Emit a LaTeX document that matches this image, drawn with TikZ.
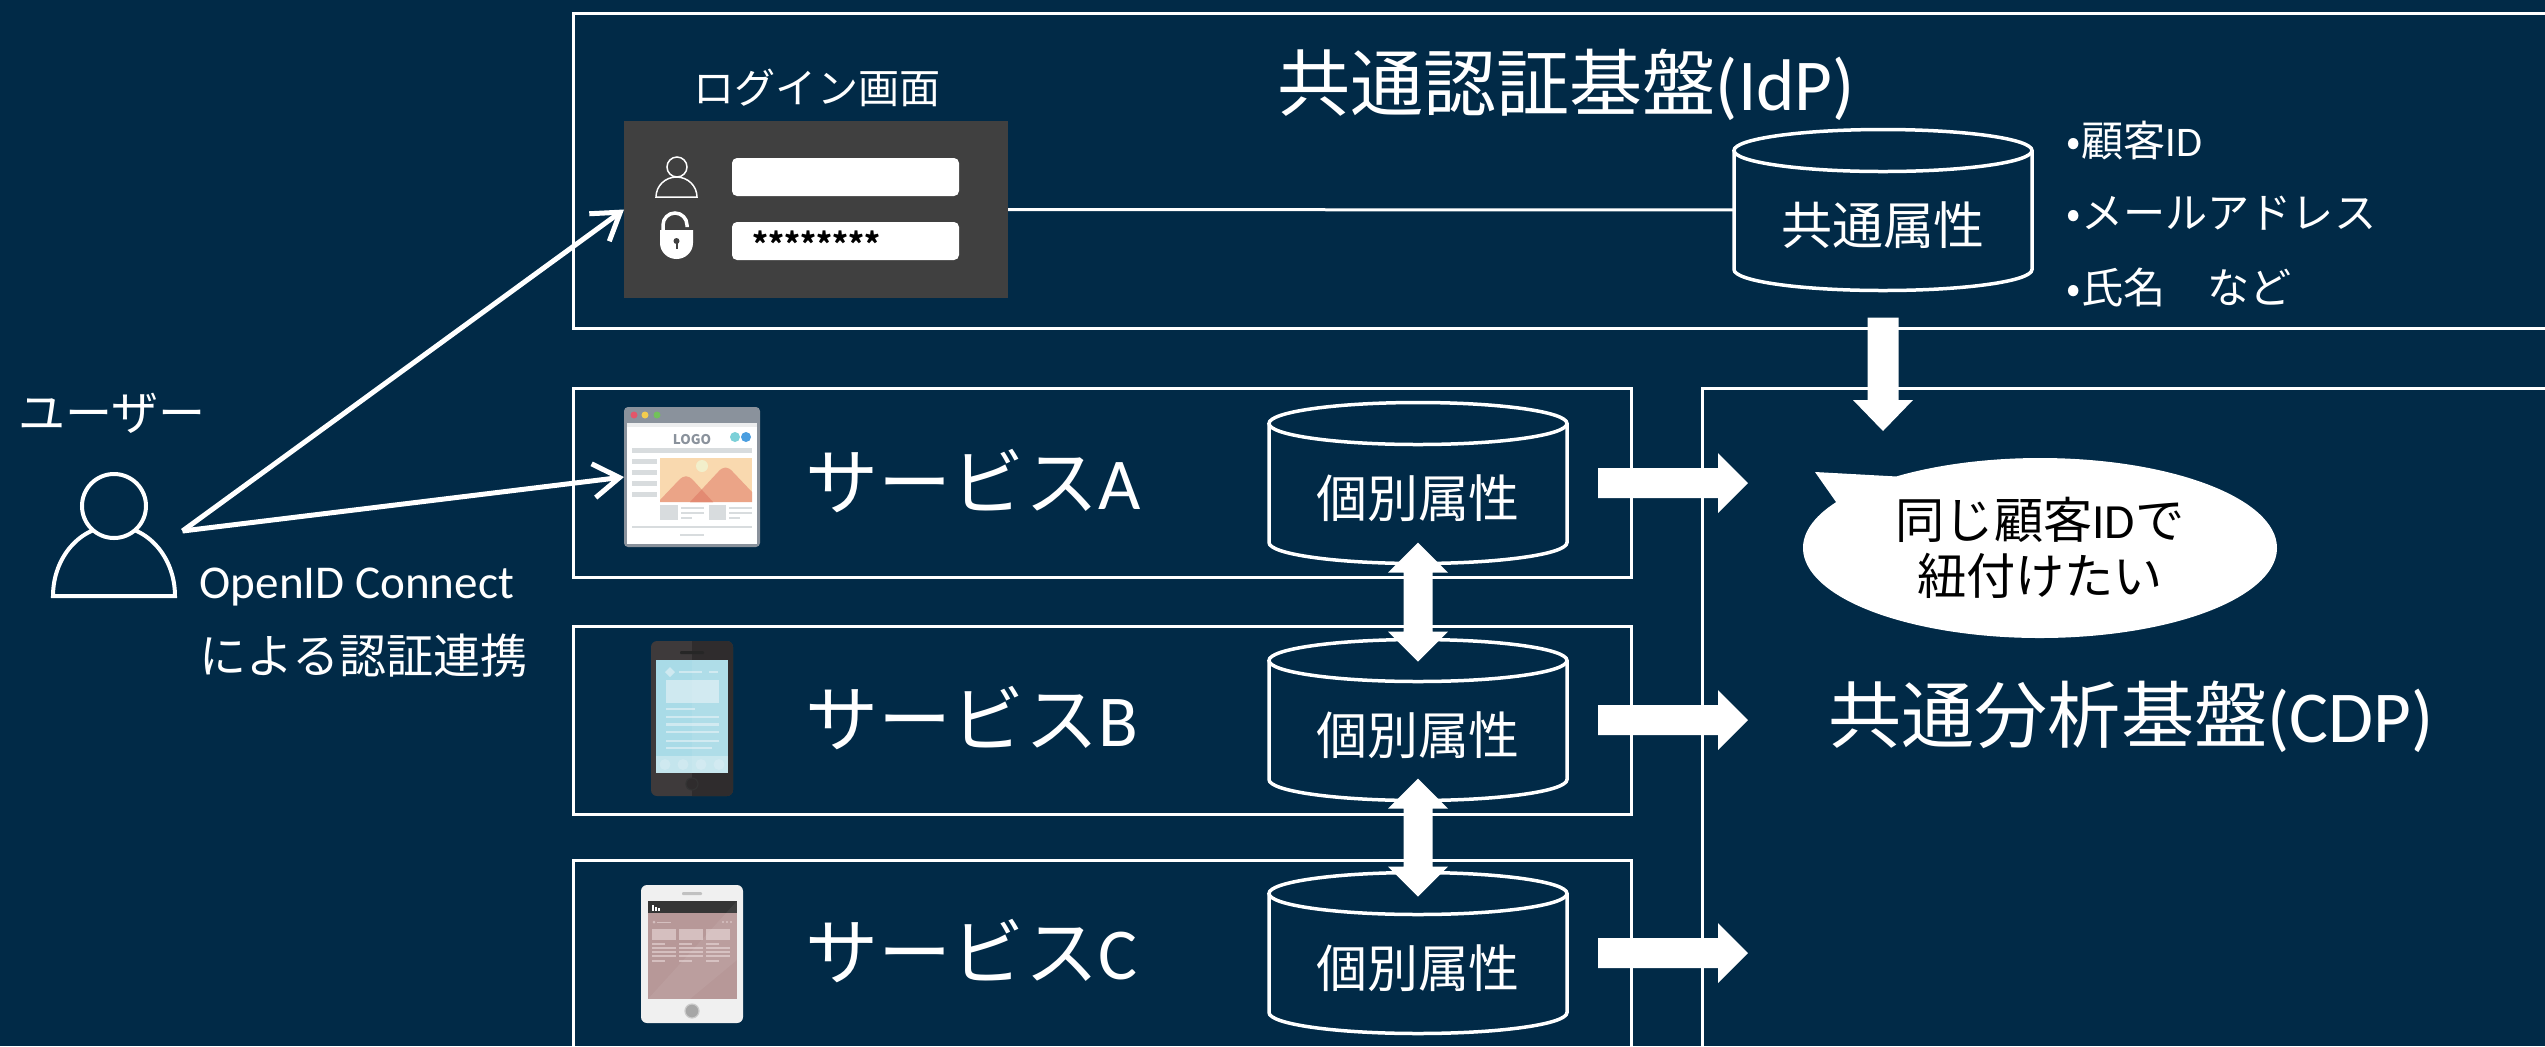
\documentclass[tikz,border=0pt]{standalone}
\usepackage{fontspec}
\setmainfont{Noto Sans CJK JP}
\newfontfamily\lat{Carlito}
\usetikzlibrary{calc,arrows.meta,shapes.geometric,shapes.callouts}

\definecolor{bg}{RGB}{1,42,71}
\definecolor{panel}{HTML}{404040}
\definecolor{framegray}{HTML}{8A929C}
\definecolor{webgray}{HTML}{D8DCDE}
\definecolor{dotred}{HTML}{E3566A}
\definecolor{dotyel}{HTML}{F2CD4F}
\definecolor{dotgrn}{HTML}{72C25A}
\definecolor{dotteal}{HTML}{7CD0D8}
\definecolor{dotblue}{HTML}{4A9EE0}
\definecolor{peach}{HTML}{F9D9AF}
\definecolor{mount}{HTML}{EBA487}
\definecolor{mountdk}{HTML}{E38A72}
\definecolor{sun}{HTML}{F2EFCB}
\definecolor{phonebody}{HTML}{3E3A3B}
\definecolor{phonedark}{HTML}{2F2C2D}
\definecolor{screenblue}{HTML}{A9DBE7}
\definecolor{screenlt}{HTML}{CFE9F0}
\definecolor{tabbody}{HTML}{F0F0F0}
\definecolor{tabscreen}{HTML}{B79898}
\definecolor{tabhead}{HTML}{353535}
\definecolor{tabbtn}{HTML}{A6A6A6}
\definecolor{tablt}{HTML}{D5BFBF}

% cylinder outline around a named rectangular node
\newcommand\cylout[1]{%
  \draw[cylline] ([yshift=-2.1mm]#1.north) ellipse [x radius=14.9mm, y radius=2.1mm];
  \draw[cylline] ([yshift=-2.1mm]#1.north west) -- ([yshift=2.1mm]#1.south west)
    arc[start angle=180, end angle=360, x radius=14.9mm, y radius=2.1mm]
    -- ([yshift=-2.1mm]#1.north east);}

% block arrows between two named coordinates
\newcommand\rightblock[2]{%
  \fill[white] ($(#1)+(0,1.5mm)$) -- ($(#2)+(-3mm,1.5mm)$) -- ($(#2)+(-3mm,3mm)$) -- (#2)
    -- ($(#2)+(-3mm,-3mm)$) -- ($(#2)+(-3mm,-1.5mm)$) -- ($(#1)+(0,-1.5mm)$) -- cycle;}
\newcommand\downblock[2]{%
  \fill[white] ($(#1)+(-1.55mm,0)$) -- ($(#2)+(-1.55mm,3.1mm)$) -- ($(#2)+(-3mm,3.1mm)$) -- (#2)
    -- ($(#2)+(3mm,3.1mm)$) -- ($(#2)+(1.55mm,3.1mm)$) -- ($(#1)+(1.55mm,0)$) -- cycle;}
\newcommand\updownblock[2]{%
  \fill[white] (#1) -- ($(#1)+(3mm,-3mm)$) -- ($(#1)+(1.45mm,-3mm)$) -- ($(#2)+(1.45mm,3mm)$)
    -- ($(#2)+(3mm,3mm)$) -- (#2) -- ($(#2)+(-3mm,3mm)$) -- ($(#2)+(-1.45mm,3mm)$)
    -- ($(#1)+(-1.45mm,-3mm)$) -- ($(#1)+(-3mm,-3mm)$) -- cycle;}

\begin{document}
\begin{tikzpicture}[x=0.1mm, y=-0.1mm,
  box/.style={draw=white, line width=0.3mm, rectangle, inner sep=0pt, outer sep=0pt, anchor=north west},
  cylnode/.style={rectangle, inner sep=0pt, outer sep=0pt, minimum width=29.8mm, minimum height=16.1mm,
    text=white, font=\fontsize{14.5}{17}\selectfont, text height=7.5mm, text depth=0.6mm},
  cylline/.style={draw=white, line width=0.35mm},
  bigtext/.style={text=white, font=\fontsize{20.8}{25}\selectfont, inner sep=0pt},
  txt/.style={text=white, inner sep=0pt},
  conn/.style={draw=white, line width=0.3mm},
  uarrow/.style={draw=white, line width=0.5mm, -{Straight Barb[length=2.6mm, width=3.4mm]}},
  field/.style={fill=white, rounded corners=0.5mm, minimum width=22.7mm, minimum height=3.8mm,
    inner sep=0pt, outer sep=0pt},
  icon/.style={inner sep=0pt, outer sep=0pt},
]
\useasboundingbox (0,0) rectangle (2545,1046);
\fill[bg] (0,0) rectangle (2545,1046);
\clip (0,0) rectangle (2545,1046);

% ---------- frames ----------
\node[box, minimum width=210mm, minimum height=31.5mm] (idp) at (573,13) {};
\node[box, minimum width=105.9mm, minimum height=18.9mm] (sa) at (573,388) {};
\node[box, minimum width=105.9mm, minimum height=18.8mm] (sb) at (573,626) {};
\node[box, minimum width=105.9mm, minimum height=30mm] (sc) at (573,860) {};
\node[box, minimum width=100mm, minimum height=80mm] (cdp) at (1702,388) {};

\node[bigtext] (idpt) at (1566,85) {共通認証基盤{\lat(IdP)}};
\node[bigtext] (cdpt) at (2131,717) {共通分析基盤{\lat(CDP)}};
\node[bigtext, anchor=west] (sat) at (805,481) {サービス{\lat A}};
\node[bigtext, anchor=west] (sbt) at (805,718) {サービス{\lat B}};
\node[bigtext, anchor=west] (sct) at (805,951) {サービス{\lat C}};

% ---------- login screen ----------
\node[txt, font=\fontsize{11.7}{14}\selectfont] (logint) at (817,88) {ログイン画面};
\node[fill=panel, minimum width=38.4mm, minimum height=17.7mm, inner sep=0pt, outer sep=0pt] (login) at (816,209.5) {};
\node[field] (f1) at (845.5,177) {};
\node[field] (f2) at (845.5,241) {};
\node[inner sep=0pt, anchor=west, text=black, font=\fontsize{8.6}{10}\selectfont\bfseries] (pw) at (752,243) {********};
% person glyph
\draw[white, line width=0.15mm] (656,197) arc[start angle=180, end angle=0, x radius=2.05mm, y radius=2.0mm] -- cycle;
\filldraw[fill=panel, draw=white, line width=0.15mm] (677,167) circle[radius=1mm];
% padlock glyph
\draw[white, line width=0.35mm] (663,233) -- (663,225) arc[start angle=180, end angle=0, radius=1.2mm] -- (687,227);
\fill[white] (660,230) -- (693,230) -- (693,243) arc[start angle=0, end angle=-180, x radius=1.65mm, y radius=1.6mm] -- cycle;
\fill[panel] (676.5,241) circle[radius=0.3mm];
\fill[panel] (675.5,241) rectangle (677.5,249);

% ---------- common attribute store ----------
\node[cylnode] (cidp) at (1883,210) {共通属性};
\cylout{cidp}
\draw[conn] (login) -- (cidp);
\node[txt, anchor=west, font=\fontsize{12}{14}\selectfont] (b1) at (2066,141) {•顧客{\lat ID}};
\node[txt, anchor=west, font=\fontsize{12}{14}\selectfont] (b2) at (2066,213) {•メールアドレス};
\node[txt, anchor=west, font=\fontsize{12}{14}\selectfont] (b3) at (2066,287) {•氏名　など};

% ---------- per-service stores ----------
\node[cylnode] (ca) at (1418,483) {個別属性};
\node[cylnode] (cb) at (1418,720) {個別属性};
\node[cylnode] (cc) at (1418,953) {個別属性};
\cylout{ca}
\cylout{cb}
\cylout{cc}

\coordinate (ab1) at ($(ca.south)+(0,2.1mm)$);
\coordinate (ab2) at ($(cb.north)+(0,-2.2mm)$);
\coordinate (bc1) at ($(cb.south)+(0,2.2mm)$);
\coordinate (bc2) at ($(cc.north)+(0,-2.4mm)$);
\updownblock{ab1}{ab2}
\updownblock{bc1}{bc2}

\coordinate (ra1) at ($(ca.east)+(3.1mm,0)$);
\coordinate (ra2) at ($(ca.east -| cdp.west)+(4.6mm,0)$);
\coordinate (rb1) at ($(cb.east)+(3.1mm,0)$);
\coordinate (rb2) at ($(cb.east -| cdp.west)+(4.6mm,0)$);
\coordinate (rc1) at ($(cc.east)+(3.1mm,0)$);
\coordinate (rc2) at ($(cc.east -| cdp.west)+(4.6mm,0)$);
\rightblock{ra1}{ra2}
\rightblock{rb1}{rb2}
\rightblock{rc1}{rc2}

\coordinate (d1) at ($(cidp.south)+(0,-2.7mm)$);
\coordinate (d2) at ($(cidp.south |- cdp.north)+(0,-4.3mm)$);
\downblock{d1}{d2}

% ---------- speech bubble ----------
\node[ellipse callout, fill=white, minimum width=47.4mm, minimum height=18mm, inner sep=0pt,
  callout absolute pointer={(1815,472)}, callout pointer arc=22,
  text=black, align=center, font=\fontsize{14}{15.8}\selectfont] (bubble) at (2040,548) {同じ顧客{\lat ID}で\\紐付けたい};

% ---------- browser icon ----------
\node[icon, fill=framegray, rounded corners=0.4mm, minimum width=13.6mm, minimum height=14mm] (web) at (692,477) {};
\fill[white] (627,423) rectangle (757,544);
\fill[webgray!50] (627,423) rectangle (757,427);
\fill[dotred] (634,415) circle[radius=0.35mm];
\fill[dotyel] (645,415) circle[radius=0.35mm];
\fill[dotgrn] (657,415) circle[radius=0.35mm];
\node[icon, text=framegray, font=\fontsize{3.8}{4}\selectfont\bfseries] (logo) at (692,440) {LOGO};
\fill[dotteal] (735,437) circle[radius=0.5mm];
\fill[dotblue] (746,437) circle[radius=0.5mm];
\fill[webgray] (632,448) rectangle (752,453);
\foreach \yy in {459,470,481,492} \fill[webgray] (632,\yy) rectangle (657,\yy+5);
\fill[peach] (660,458) rectangle (752,502);
\fill[sun] (702,466) circle[radius=0.6mm];
\fill[mount] (660,502) -- (660,500) -- (679,480) .. controls (684,475) and (688,475) .. (693,480) -- (713,502) -- cycle;
\fill[mount] (690,502) -- (718,472) .. controls (723,466) and (728,466) .. (733,472) -- (752,492) -- (752,502) -- cycle;
\fill[mountdk] (690,502) -- (701.7,489.6) -- (713,502) -- cycle;
\fill[webgray] (660,505) rectangle (678,520);
\fill[webgray] (681,507) rectangle (704,509);
\fill[webgray] (681,512) rectangle (704,514);
\fill[webgray] (681,517) rectangle (692,519);
\fill[webgray] (709,505) rectangle (726,520);
\fill[webgray] (729,507) rectangle (752,509);
\fill[webgray] (729,512) rectangle (752,514);
\fill[webgray] (729,517) rectangle (740,519);
\fill[webgray] (632,526) rectangle (752,528);
\fill[webgray] (680,534) rectangle (704,536);

% ---------- phone icon ----------
\node[icon, fill=phonebody, rounded corners=0.6mm, minimum width=8.2mm, minimum height=15.5mm] (phone) at (692,718.5) {};
\begin{scope}
  \clip (692,630) rectangle (745,805);
  \fill[phonedark, rounded corners=0.6mm] (651,641) rectangle (733,796);
\end{scope}
\fill[screenblue] (656,660) rectangle (728,773);
\fill[screenlt] (670,667) -- (675,672) -- (670,677) -- (665,672) -- cycle;
\fill[screenlt] (679,671) rectangle (702,673);
\fill[screenlt] (709,671) rectangle (718,672.5);
\fill[screenlt] (666,680) rectangle (719,703);
\fill[screenlt] (666,708) rectangle (695,710);
\fill[screenlt] (666,716) rectangle (719,718);
\fill[screenlt] (666,723) rectangle (719,726);
\fill[screenlt] (666,731) rectangle (719,733);
\fill[screenlt] (666,740) rectangle (719,742);
\fill[screenlt] (666,747) rectangle (712,749);
\fill[screenlt!70!screenblue] (656,756) rectangle (728,773);
\foreach \xx in {665,683,701,719} \fill[screenlt] (\xx,764.5) circle[radius=0.55mm];
\fill[white, opacity=0.08] (692,660) rectangle (728,773);
\fill[black!85, rounded corners=0.1mm] (680,651) rectangle (704,654);
\filldraw[fill=phonedark, draw=black!80, line width=0.12mm] (692,784) circle[radius=0.6mm];

% ---------- tablet icon ----------
\node[icon, fill=tabbody, rounded corners=0.6mm, minimum width=10.2mm, minimum height=13.8mm] (tab) at (692,954) {};
\fill[tabscreen] (648,901) rectangle (737,999);
\fill[tabhead] (648,901) rectangle (737,913);
\fill[white] (652,905) rectangle (653.5,911);
\fill[white] (655,907) rectangle (656.5,911);
\fill[white] (658,908) rectangle (659.5,911);
\fill[tablt] (654,922) circle[radius=0.15mm];
\fill[tablt] (657,921.5) rectangle (671,922.5);
\foreach \xx in {723,727,731} \fill[tablt] (\xx,922) circle[radius=0.12mm];
\foreach \xx in {652,679,706} {
  \fill[tablt] (\xx,929) rectangle (\xx+24,940);
  \fill[tablt] (\xx,943) rectangle (\xx+13,944.5);
  \fill[tablt] (\xx,947) rectangle (\xx+24,948.5);
  \fill[tablt] (\xx,951) rectangle (\xx+24,952.5);
  \fill[tablt] (\xx,955) rectangle (\xx+24,956.5);
  \fill[tablt] (\xx,960) rectangle (\xx+13,961.5);
}
\fill[white, opacity=0.06] (737,901) -- (737,960) -- (690,999) -- (648,999) -- cycle;
\fill[tabbtn!70, rounded corners=0.1mm] (682,892) rectangle (702,895);
\filldraw[fill=tabbtn, draw=tabbtn!60, line width=0.12mm] (692,1011) circle[radius=0.7mm];

% ---------- user ----------
\node[icon, minimum width=12.3mm, minimum height=12.5mm] (user) at (114,534) {};
\draw[white, line width=0.4mm] (53,596) arc[start angle=180, end angle=0, x radius=6.1mm, y radius=7.0mm] -- cycle;
\filldraw[fill=bg, draw=white, line width=0.4mm] (114,506) circle[radius=3.2mm];
\node[txt, font=\fontsize{13.4}{16}\selectfont] (userl) at (112,413) {ユーザー};
\node[txt, anchor=west, align=left, font=\fontsize{13.4}{21.3}\selectfont] (oidc) at (199,623) {{\lat OpenID Connect}\\による認証連携};

\coordinate (uo) at ($(user.east)+(0.7mm,0.3mm)$);
\draw[uarrow] (uo) -- (login.west);
\draw[uarrow] (uo) -- (web.west);
\end{tikzpicture}
\end{document}
